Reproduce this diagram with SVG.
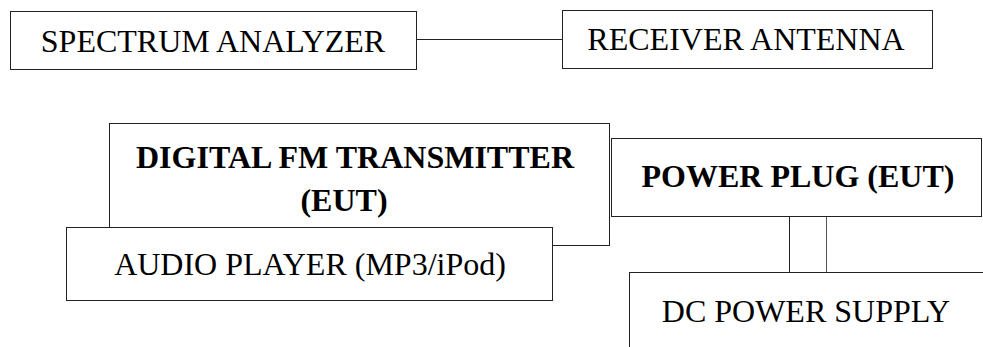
<svg xmlns="http://www.w3.org/2000/svg" width="983" height="347" viewBox="0 0 983 347">
<style>
.box{fill:#fff;stroke:#222;stroke-width:1}
.ln{fill:none;stroke:#222;stroke-width:1}
.t{font-family:Liberation Serif,DejaVu Serif,Times New Roman,Times,serif;font-size:32px;fill:#000;text-anchor:middle}
.b{font-weight:bold}
</style>
<rect width="983" height="347" fill="#fff"/>
<g id="connectors">
<path class="ln" d="M416 39.5H562"/>
<path class="ln" d="M789.5 216.5V272.5"/>
<path class="ln" d="M826.5 216.5V272.5" style="stroke:#555"/>
</g>
<g id="spectrum-analyzer">
<rect class="box" x="10.5" y="11.5" width="406" height="58"/>
<text class="t" x="213" y="51.5" font-family="Liberation Serif">SPECTRUM ANALYZER</text>
</g>
<g id="receiver-antenna">
<rect class="box" x="562.5" y="10.5" width="370" height="58"/>
<text class="t" x="746" y="50" font-family="Liberation Serif">RECEIVER ANTENNA</text>
</g>
<g id="digital-fm-transmitter">
<rect class="box" x="109.5" y="123.5" width="500" height="122"/>
<text class="t b" x="355" y="168" font-family="Liberation Serif">DIGITAL FM TRANSMITTER</text>
<text class="t b" x="344" y="211" font-family="Liberation Serif">(EUT)</text>
</g>
<g id="audio-player">
<rect class="box" x="66.5" y="227.5" width="486" height="73"/>
<text class="t" x="310" y="275" font-family="Liberation Serif">AUDIO PLAYER (MP3/iPod)</text>
</g>
<g id="power-plug">
<rect class="box" x="611.5" y="138.5" width="370" height="78"/>
<text class="t b" x="798" y="187" font-family="Liberation Serif">POWER PLUG (EUT)</text>
</g>
<g id="dc-power-supply">
<rect class="box" x="629.5" y="272.5" width="400" height="120"/>
<text class="t" x="806" y="321.5" font-family="Liberation Serif">DC POWER SUPPLY</text>
</g>
</svg>
